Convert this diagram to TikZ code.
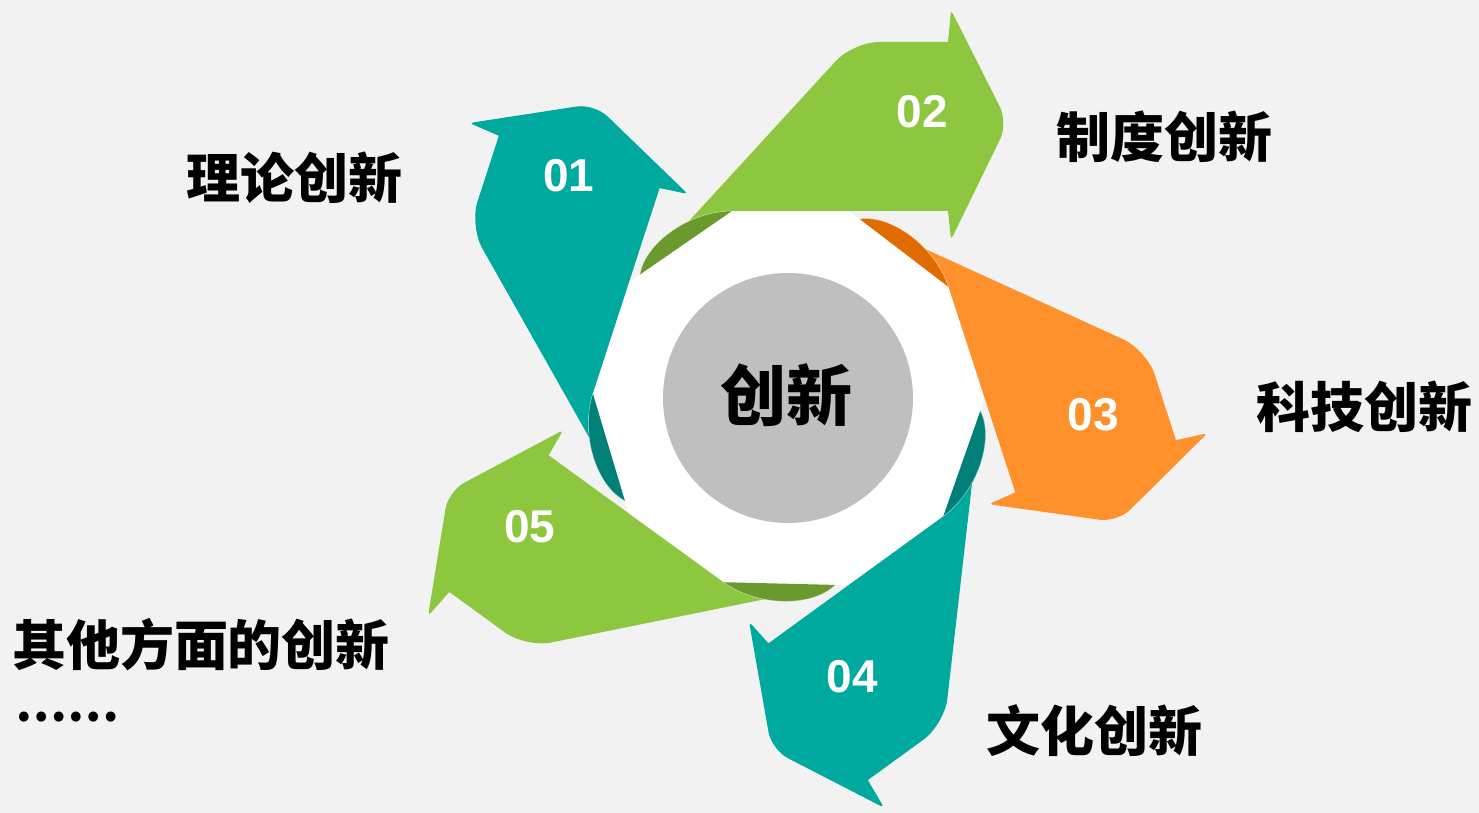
\documentclass[tikz,border=0pt]{standalone}
\usepackage{fontspec}
\setmainfont{Liberation Sans}
\newfontfamily\cjk{Noto Sans CJK SC}
\definecolor{bgC}{HTML}{F2F2F2}
\definecolor{tealC}{HTML}{00A99D}
\definecolor{tealD}{HTML}{008077}
\definecolor{greenC}{HTML}{8DC63F}
\definecolor{greenD}{HTML}{6A992E}
\definecolor{orangeC}{HTML}{FF912C}
\definecolor{orangeD}{HTML}{E06B00}
\definecolor{grayC}{HTML}{BFBFBF}
\tikzset{
  pics/curlarrow/.style 2 args={code={
    \fill[#1] (-56,-187) -- (160,-187) -- (162.1,-166.9) .. controls (163,-158) .. (166.9,-166.1)
      -- (212.1,-258.8) .. controls (216.4,-267.7) and (216.4,-282.2) .. (211.9,-291.1)
      -- (167.1,-380) .. controls (163,-388) .. (162.2,-379)
      -- (160,-356) -- (91,-356) .. controls (76.7,-356) and (57.2,-347.3) .. (47.6,-336.7)
      -- (-148,-123.5) .. controls (-143,-155) and (-98,-187) .. (-56,-187) -- cycle;
    \fill[#2] (-56,-187) .. controls (-98,-187) and (-143,-155) .. (-148,-123.5) -- cycle;
    \draw[white, opacity=0.45, line width=0.3pt] (-56,-187) .. controls (-98,-187) and (-143,-155) .. (-148,-123.5);
  }},
  numlabel/.style={text=white, inner sep=0pt, font=\bfseries\fontsize{23}{23}\selectfont},
  cjklabel/.style={text=black, inner sep=0pt, font=\cjk\bfseries\fontsize{27}{27}\selectfont},
}
\begin{document}
\begin{tikzpicture}[x=0.5pt,y=-0.5pt]
\useasboundingbox (0,0) rectangle (1479,813);
\fill[bgC] (0,0) rectangle (1479,813);
\begin{scope}[shift={(788,398)}]
  \fill[white] (0:196.6) \foreach \a in {36,72,...,324} { -- (\a:196.6) } -- cycle;
\end{scope}
\pic (a1) [rotate=72] at (788,398) {curlarrow={tealC}{tealD}};
\pic (a2) at (788,398) {curlarrow={greenC}{greenD}};
\pic (a3) [rotate=-72] at (788,398) {curlarrow={orangeC}{orangeD}};
\pic (a4) [rotate=-144] at (788,398) {curlarrow={tealC}{tealD}};
\pic (a5) [rotate=144] at (788,398) {curlarrow={greenC}{greenD}};
\fill[grayC] (788,398) circle[radius=62.5pt];
\node[cjklabel, font=\cjk\bfseries\fontsize{33}{33}\selectfont] (core) at (786,395) {创新};
\node[numlabel] (n1) at (569,176) {01};
\node[numlabel] (n2) at (922,112) {02};
\node[numlabel] (n3) at (1093,415) {03};
\node[numlabel] (n4) at (852,677) {04};
\node[numlabel] (n5) at (530,527) {05};
\node[cjklabel] (t1) at (294,178) {理论创新};
\node[cjklabel] (t2) at (1164,137) {制度创新};
\node[cjklabel] (t3) at (1364,407) {科技创新};
\node[cjklabel] (t4) at (1094,731) {文化创新};
\node[cjklabel] (t5) at (201,645) {其他方面的创新};
\node[cjklabel, anchor=west, font=\cjk\bfseries\fontsize{23}{23}\selectfont] (t6) at (15,717) {……};
\end{tikzpicture}
\end{document}
